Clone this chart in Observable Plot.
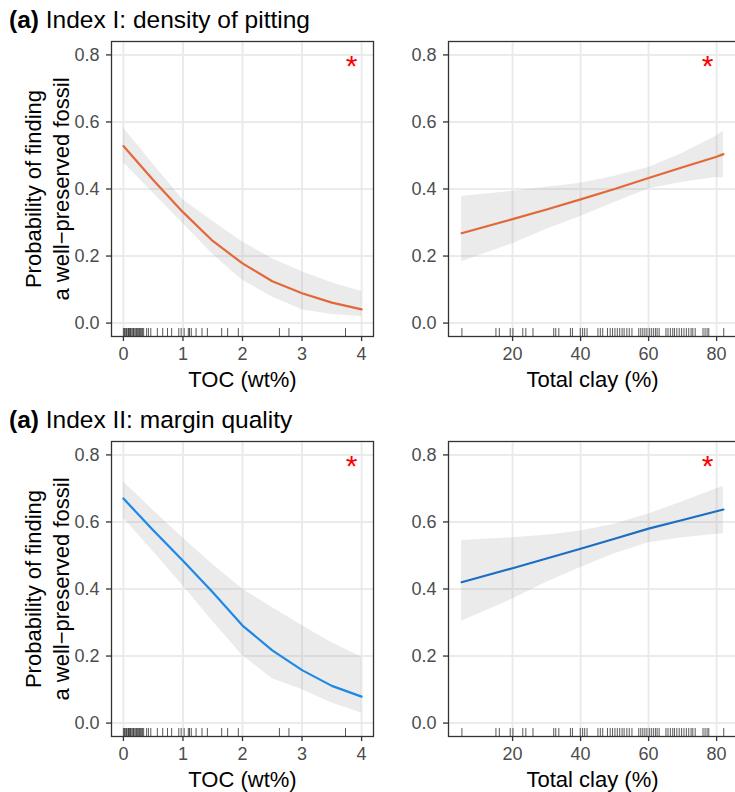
<!DOCTYPE html>
<html>
<head>
<meta charset="utf-8">
<script src="https://cdn.jsdelivr.net/npm/d3@7"></script>
<script src="https://cdn.jsdelivr.net/npm/@observablehq/plot@0.6"></script>
<style>
  html, body { margin: 0; padding: 0; background: #fff; overflow: hidden; }
  #wrap { position: relative; width: 735px; height: 792px; overflow: hidden; font-family: "Liberation Sans", Arial, Helvetica, sans-serif; }
  .ttl { position: absolute; left: 9px; font-size: 24.5px; line-height: 24px; color: #000; white-space: nowrap; }
  .ttl b { font-weight: bold; }
  .pn { position: absolute; width: 400px; }
</style>
</head>
<body>
<div id="wrap">
  <div class="ttl" style="top:8px"><b>(a)</b> Index I: density of pitting</div>
  <div class="ttl" style="top:408px"><b>(a)</b> Index II: margin quality</div>
  <div class="pn" id="p1" style="left:0px; top:35px"></div>
  <div class="pn" id="p2" style="left:400px; top:35px"></div>
  <div class="pn" id="p3" style="left:0px; top:435px"></div>
  <div class="pn" id="p4" style="left:400px; top:435px"></div>
</div>
<script>
// ---------- data ----------
const tocGrid  = [0, 0.5, 1, 1.5, 2, 2.5, 3, 3.5, 4];
const tocFitI  = [0.528, 0.427, 0.331, 0.245, 0.178, 0.125, 0.089, 0.061, 0.041];
const tocLoI   = [0.479, 0.388, 0.297, 0.205, 0.128, 0.078, 0.040, 0.026, 0.020];
const tocHiI   = [0.583, 0.474, 0.368, 0.304, 0.242, 0.192, 0.153, 0.120, 0.094];
const tocFitII = [0.670, 0.575, 0.484, 0.390, 0.291, 0.217, 0.158, 0.111, 0.079];
const tocLoII  = [0.612, 0.512, 0.410, 0.303, 0.202, 0.132, 0.100, 0.060, 0.030];
const tocHiII  = [0.720, 0.635, 0.552, 0.473, 0.400, 0.345, 0.291, 0.240, 0.197];

const clayGrid  = [5, 20, 30, 40, 50, 60, 70, 80, 82];
const clayFitI  = [0.268, 0.310, 0.339, 0.369, 0.400, 0.433, 0.465, 0.496, 0.504];
const clayLoI   = [0.183, 0.237, 0.280, 0.318, 0.360, 0.400, 0.420, 0.434, 0.433];
const clayHiI   = [0.378, 0.393, 0.405, 0.417, 0.438, 0.464, 0.507, 0.558, 0.573];
const clayFitII = [0.420, 0.462, 0.491, 0.520, 0.550, 0.580, 0.606, 0.632, 0.637];
const clayLoII  = [0.304, 0.370, 0.420, 0.464, 0.505, 0.538, 0.553, 0.563, 0.565];
const clayHiII  = [0.545, 0.553, 0.560, 0.573, 0.593, 0.624, 0.660, 0.699, 0.706];

// observed sample values (rug)
const tocRug = [0.0, 0.02, 0.03, 0.05, 0.06, 0.08, 0.09, 0.10, 0.12, 0.13, 0.15, 0.17, 0.18, 0.20,
  0.22, 0.24, 0.25, 0.27, 0.29, 0.30, 0.32, 0.34, 0.39, 0.42, 0.46, 0.57, 0.66, 0.74, 0.81, 0.93,
  0.97, 1.02, 1.09, 1.11, 1.14, 1.22, 1.32, 1.41, 1.65, 1.75, 1.93, 2.62, 2.78, 3.73];
const clayRug = [5.1, 15.1, 16.1, 19.3, 20.1, 23.0, 23.9, 26.0, 32.1, 32.7, 33.6, 37.0, 37.6,
  39.9, 40.6, 41.2, 41.9, 45.1, 45.8, 46.5, 47.9, 48.7, 49.4, 50.1, 50.8, 51.5, 52.2, 52.8, 53.6,
  54.3, 55.1, 57.1, 57.7, 58.3, 58.9, 59.5, 60.2, 60.8, 61.4, 62.0, 62.5, 63.1, 65.1, 65.7, 66.4,
  67.1, 67.6, 68.3, 69.0, 69.7, 70.4, 71.1, 71.8, 72.5, 73.0, 73.7, 76.0, 76.6, 77.2, 77.7, 82.1];

const tocTicks  = [0, 1, 2, 3, 4];
const clayTicks = [20, 40, 60, 80];
const probTicks = [0, 0.2, 0.4, 0.6, 0.8];
const tocTitle  = "TOC (wt%)";
const clayTitle = "Total clay (%)";
const yTitle    = "Probability of finding\na well\u2212preserved fossil";
const sigMark   = ["*"];
const colorI    = "#E2683A";
const colorIIa  = "#1E88E5";
const colorIIb  = "#1B6EC2";

const FONT = "'Liberation Sans', Arial, Helvetica, sans-serif";

function panel({grid, fit, lo, hi, rug, color, xDomain, xTicks, xTitle, left, width, mLeft, mRight, starDx}) {
  const data = grid.map((x, i) => ({x, fit: fit[i], lo: lo[i], hi: hi[i]}));
  const mTop = 6, frameH = 295, mBottom = 65;
  const marks = [
    Plot.gridX(xTicks, {stroke: "#ebebeb", strokeOpacity: 1, strokeWidth: 2}),
    Plot.gridY(probTicks, {stroke: "#ebebeb", strokeOpacity: 1, strokeWidth: 2}),
    Plot.areaY(data, {x: "x", y1: "lo", y2: "hi", fill: "#999999", fillOpacity: 0.2, curve: "linear"}),
    Plot.line(data, {x: "x", y: "fit", stroke: color, strokeWidth: 2.2, curve: "linear"}),
    Plot.ruleX(rug, {x: d => d, insetTop: frameH - 8, stroke: "#000", strokeOpacity: 0.65, strokeWidth: 1}),
    Plot.frame({stroke: "#333333", strokeWidth: 1.3}),
    Plot.axisX(xTicks, {tickSize: 5, tickPadding: 6, fontSize: 18, stroke: "#333333", strokeWidth: 1.3, fill: "#4d4d4d", label: null, tickFormat: d3.format("d")}),
    Plot.axisY(probTicks, {tickSize: 5, tickPadding: 7, fontSize: 18, stroke: "#333333", strokeWidth: 1.3, fill: "#4d4d4d", label: null, tickFormat: d3.format(".1f")}),
    Plot.text([xTitle], {text: d => d, frameAnchor: "bottom", dy: 50, fontSize: 22, fill: "#000"}),
    Plot.text(sigMark, {text: d => d, frameAnchor: "top-right", textAnchor: "middle", dx: starDx, dy: 13, fontSize: 30, fill: "#ff0000"})
  ];
  if (left) {
    marks.push(Plot.text([yTitle], {text: d => d, frameAnchor: "left", textAnchor: "middle", rotate: -90, dx: -65, fontSize: 22, lineHeight: 1.27, fill: "#000"}));
  }
  return Plot.plot({
    width, height: mTop + frameH + mBottom,
    marginLeft: mLeft, marginRight: mRight, marginTop: mTop, marginBottom: mBottom,
    x: {domain: xDomain, axis: null},
    y: {domain: [-0.04, 0.84], axis: null},
    style: {fontFamily: FONT, fontSize: "18px", background: "transparent", overflow: "visible", maxWidth: "none"},
    marks
  });
}

document.getElementById("p1").append(panel({grid: tocGrid, fit: tocFitI, lo: tocLoI, hi: tocHiI, rug: tocRug,
  color: colorI, xDomain: [-0.2, 4.2], xTicks: tocTicks, xTitle: tocTitle, left: true, width: 380, mLeft: 111, mRight: 7, starDx: -22}));
document.getElementById("p2").append(panel({grid: clayGrid, fit: clayFitI, lo: clayLoI, hi: clayHiI, rug: clayRug,
  color: colorI, xDomain: [1.15, 85.85], xTicks: clayTicks, xTitle: clayTitle, left: false, width: 340, mLeft: 48, mRight: 4, starDx: -29}));
document.getElementById("p3").append(panel({grid: tocGrid, fit: tocFitII, lo: tocLoII, hi: tocHiII, rug: tocRug,
  color: colorIIa, xDomain: [-0.2, 4.2], xTicks: tocTicks, xTitle: tocTitle, left: true, width: 380, mLeft: 111, mRight: 7, starDx: -22}));
document.getElementById("p4").append(panel({grid: clayGrid, fit: clayFitII, lo: clayLoII, hi: clayHiII, rug: clayRug,
  color: colorIIb, xDomain: [1.15, 85.85], xTicks: clayTicks, xTitle: clayTitle, left: false, width: 340, mLeft: 48, mRight: 4, starDx: -29}));
</script>
</body>
</html>
